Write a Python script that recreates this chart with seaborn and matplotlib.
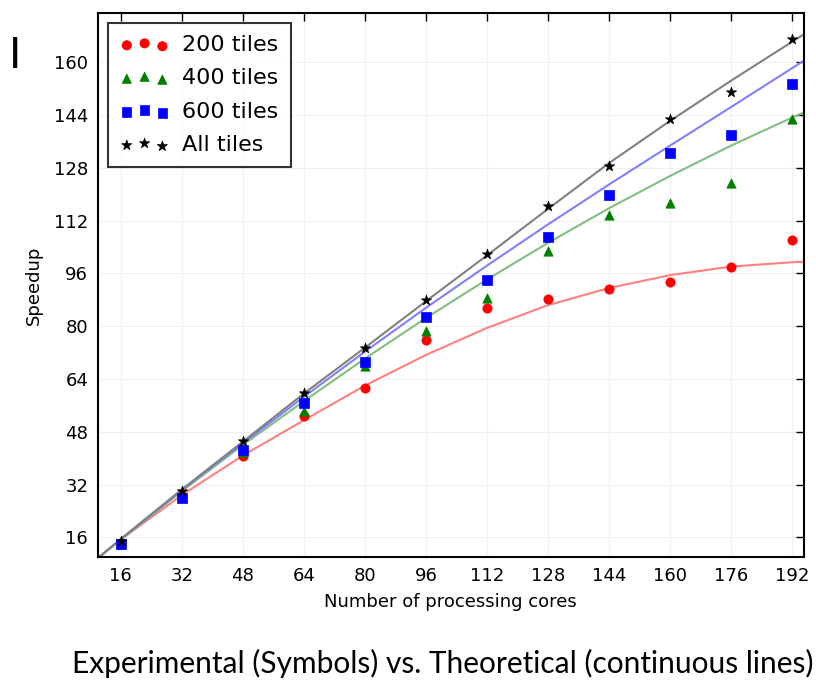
import numpy as np
import pandas as pd
import matplotlib
matplotlib.use('Agg')
import matplotlib.pyplot as plt
import seaborn as sns

# measured points (symbols)
cores = [16, 32, 48, 64, 80, 96, 112, 128, 144, 160, 176, 192]
speedup_200 = [14.0, 28.5, 40.6, 52.8, 61.4, 75.9, 85.5, 88.3, 91.2, 93.5, 97.9, 106.0]
speedup_400 = [14.0, 28.5, 41.8, 54.3, 68.0, 78.4, 88.6, 102.8, 113.6, 117.5, 123.3, 142.8]
speedup_600 = [14.0, 28.0, 42.6, 56.6, 69.3, 82.7, 94.1, 107.0, 119.7, 132.4, 138.1, 153.4]
speedup_all = [15.0, 29.9, 45.1, 59.7, 73.5, 87.8, 101.8, 116.4, 128.6, 142.8, 151.1, 167.1]

# theoretical curves (continuous lines)
theory_cores = [8, 16, 32, 48, 64, 80, 96, 112, 128, 144, 160, 176, 192, 196]
theory_200 = [7.8, 15.3, 28.8, 40.8, 51.5, 62.0, 71.3, 79.5, 86.4, 91.6, 95.5, 98.1, 99.4, 99.6]
theory_400 = [7.8, 15.3, 30.0, 44.0, 57.3, 70.2, 82.5, 94.2, 105.3, 115.8, 125.6, 134.8, 143.3, 145.3]
theory_600 = [7.8, 15.4, 30.3, 44.5, 58.6, 72.3, 85.6, 98.4, 110.9, 123.0, 134.8, 146.5, 158.3, 161.2]
theory_all = [7.8, 15.5, 30.5, 45.0, 59.6, 73.5, 87.6, 101.5, 115.6, 129.5, 142.3, 154.5, 166.3, 169.2]

labels = ['200 tiles', '400 tiles', '600 tiles', 'All tiles']
colors = ['#ff0000', '#008000', '#0000ff', '#000000']
line_colors = ['#ff8080', '#80bf80', '#8080ff', '#808080']
markers = ['o', '^', 's', '*']

sns.set_style('white')
plt.rcParams['font.family'] = ['DejaVu Sans']
plt.rcParams['text.color'] = 'black'
plt.rcParams['axes.labelcolor'] = 'black'

fig = plt.figure(figsize=(8.16, 6.81), dpi=100)
ax = fig.add_axes([0.120, 0.182, 0.865, 0.799])

points = [speedup_200, speedup_400, speedup_600, speedup_all]
curves = [theory_200, theory_400, theory_600, theory_all]

for pts, lab, c, m in zip(points, labels, colors, markers):
    sns.scatterplot(x=cores, y=pts, ax=ax, color=c, marker=m, s=60 if m == '*' else 45,
                    edgecolor=c, linewidth=0.5, label=lab, legend=False, zorder=3)

for cv, lc in zip(curves, line_colors):
    sns.lineplot(x=theory_cores, y=cv, ax=ax, color=lc, linewidth=1.5, zorder=2)

ax.set_xlim(10, 195)
ax.set_ylim(10, 175)
ax.set_xticks(cores)
ax.set_yticks(np.arange(16, 161, 16))
ax.grid(True, color='#f0f0f0', linewidth=0.8)
ax.tick_params(direction='in', top=True, right=True, length=6, width=1,
               labelsize=13, colors='black', pad=7)
for sp in ax.spines.values():
    sp.set_color('black')
    sp.set_linewidth(1.5)

ax.set_xlabel('Number of processing cores', fontsize=13, labelpad=6)
ax.set_ylabel('Speedup', fontsize=13, labelpad=8)

leg = ax.legend(handles=ax.collections[:4], labels=labels, loc='upper left',
                scatterpoints=3, fontsize=16, frameon=True, fancybox=False,
                borderaxespad=0.45, borderpad=0.55, handletextpad=0.6,
                labelspacing=0.6, handlelength=2.2)
leg.get_frame().set_edgecolor('black')
leg.get_frame().set_linewidth(1.5)

fig.text(0.019, 0.918, 'I', fontsize=30, ha='center', va='center')
fig.text(0.543, 0.026, 'Experimental (Symbols) vs. Theoretical (continuous lines)',
         fontsize=21.5, family=['Lato', 'DejaVu Sans'], ha='center', va='center')

fig.savefig('out.png', dpi=100)
